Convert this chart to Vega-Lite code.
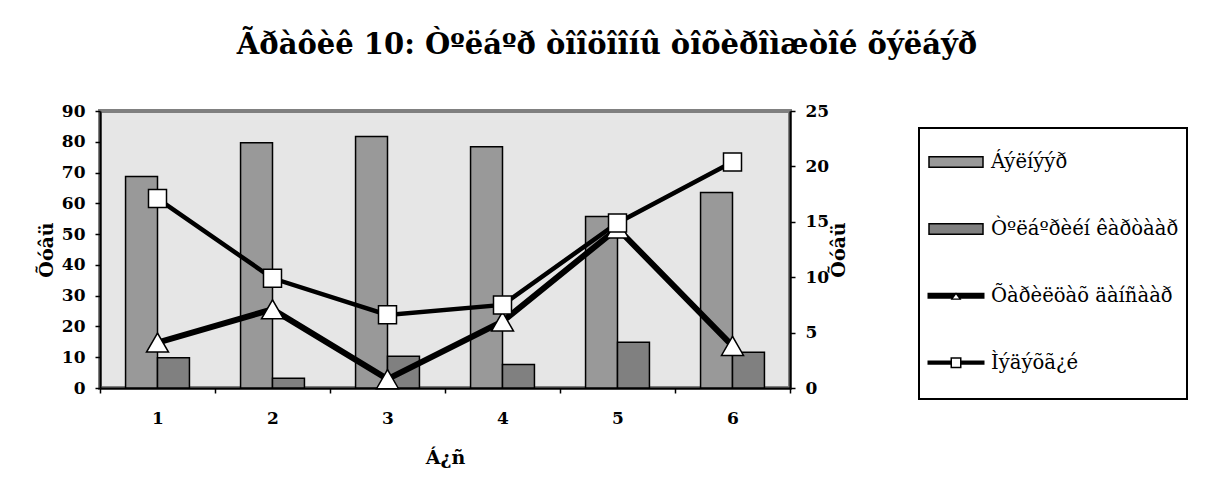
{
  "$schema": "https://vega.github.io/schema/vega-lite/v6.json",
  "autosize": {"type": "none"},
  "padding": {"left": 100, "top": 111, "right": 422, "bottom": 98},
  "width": 690,
  "height": 277,
  "background": "white",
  "title": {
    "text": "Ãðàôèê 10: Òºëáºð òîîöîîíû òîõèðîìæòîé õýëáýð",
    "font": "DejaVu Serif",
    "fontSize": 29,
    "fontWeight": "bold",
    "color": "black",
    "anchor": "middle",
    "dx": 162,
    "offset": 42
  },
  "data": {
    "values": [
      {"cat": "1", "series": "Áýëíýýð", "value": 68.7},
      {"cat": "2", "series": "Áýëíýýð", "value": 79.7},
      {"cat": "3", "series": "Áýëíýýð", "value": 81.7},
      {"cat": "4", "series": "Áýëíýýð", "value": 78.4},
      {"cat": "5", "series": "Áýëíýýð", "value": 55.7},
      {"cat": "6", "series": "Áýëíýýð", "value": 63.5},
      {"cat": "1", "series": "Òºëáºðèéí êàðòààð", "value": 9.8},
      {"cat": "2", "series": "Òºëáºðèéí êàðòààð", "value": 3.2},
      {"cat": "3", "series": "Òºëáºðèéí êàðòààð", "value": 10.3},
      {"cat": "4", "series": "Òºëáºðèéí êàðòààð", "value": 7.6},
      {"cat": "5", "series": "Òºëáºðèéí êàðòààð", "value": 14.9},
      {"cat": "6", "series": "Òºëáºðèéí êàðòààð", "value": 11.6},
      {"cat": "1", "series": "Õàðèëöàõ äàíñààð", "value": 4.1},
      {"cat": "2", "series": "Õàðèëöàõ äàíñààð", "value": 7.1},
      {"cat": "3", "series": "Õàðèëöàõ äàíñààð", "value": 0.8},
      {"cat": "4", "series": "Õàðèëöàõ äàíñààð", "value": 6.0},
      {"cat": "5", "series": "Õàðèëöàõ äàíñààð", "value": 14.4},
      {"cat": "6", "series": "Õàðèëöàõ äàíñààð", "value": 3.8},
      {"cat": "1", "series": "Ìýäýõã¿é", "value": 17.1},
      {"cat": "2", "series": "Ìýäýõã¿é", "value": 9.9},
      {"cat": "3", "series": "Ìýäýõã¿é", "value": 6.6},
      {"cat": "4", "series": "Ìýäýõã¿é", "value": 7.5},
      {"cat": "5", "series": "Ìýäýõã¿é", "value": 14.9},
      {"cat": "6", "series": "Ìýäýõã¿é", "value": 20.4}
    ]
  },
  "encoding": {
    "x": {
      "field": "cat",
      "type": "nominal",
      "sort": ["1", "2", "3", "4", "5", "6"],
      "scale": {"paddingInner": 0, "paddingOuter": 0},
      "axis": {
        "title": "Á¿ñ",
        "labelAngle": 0,
        "tickBand": "extent",
        "labelPadding": 17,
        "titlePadding": 22
      }
    }
  },
  "layer": [
    {
      "transform": [{"filter": "datum.series === 'Áýëíýýð' || datum.series === 'Òºëáºðèéí êàðòààð'"}],
      "mark": {"type": "bar", "stroke": "black", "strokeWidth": 1.5, "opacity": 1},
      "encoding": {
        "xOffset": {
          "field": "series",
          "type": "nominal",
          "sort": ["Áýëíýýð", "Òºëáºðèéí êàðòààð"],
          "scale": {"paddingInner": 0, "paddingOuter": 0.8}
        },
        "y": {
          "field": "value",
          "type": "quantitative",
          "scale": {"domain": [0, 90], "nice": false},
          "axis": {
            "orient": "left",
            "values": [0, 10, 20, 30, 40, 50, 60, 70, 80, 90],
            "title": "Õóâü",
            "titlePadding": 5
          }
        },
        "color": {
          "field": "series",
          "type": "nominal",
          "scale": {
            "domain": ["Áýëíýýð", "Òºëáºðèéí êàðòààð", "Õàðèëöàõ äàíñààð", "Ìýäýõã¿é"],
            "range": ["#999999", "#808080", "#000000", "#000000"]
          },
          "legend": {
            "title": null,
            "orient": "none",
            "legendX": 819,
            "legendY": 17,
            "padding": 8,
            "rowPadding": 12.9,
            "strokeColor": "black",
            "fillColor": "white",
            "symbolSize": 2500,
            "symbolStrokeWidth": 1.5,
            "symbolOffset": 3,
            "labelOffset": 9,
            "labelFont": "DejaVu Serif",
            "labelFontSize": 19.6,
            "labelColor": "black",
            "labelLimit": 0,
            "encoding": {
              "legend": {"strokeWidth": {"value": 2}},
              "symbols": {
                "shape": {"value": {"expr": "datum.index < 2 ? 'M-1.08,-0.21H1.08V0.21H-1.08Z M0,1' : datum.index == 2 ? 'M-1.14,-0.12L-0.005,-0.12L-0.181,0.12L-1.14,0.12Z M0.005,-0.12L1.14,-0.12L1.14,0.12L0.181,0.12Z M0,-0.14L0.22,0.16L-0.22,0.16Z M0,-0.053L-0.121,0.112L0.121,0.112Z M0,1' : 'M-1.14,-0.085H-0.21V0.085H-1.14Z M0.21,-0.085H1.14V0.085H0.21Z M-0.22,-0.22H0.22V0.22H-0.22Z M-0.16,-0.16V0.16H0.16V-0.16Z M0,1'"}},
                "stroke": {"value": {"expr": "datum.index < 2 ? 'black' : 'transparent'"}},
                "opacity": {"value": 1},
                "fillOpacity": {"value": 1}
              }
            }
          }
        }
      }
    },
    {
      "layer": [
        {
          "transform": [{"filter": "datum.series === 'Õàðèëöàõ äàíñààð'"}],
          "mark": {
            "type": "line",
            "stroke": "black",
            "strokeWidth": 6,
            "point": {"shape": "triangle-up", "size": 484, "filled": true, "fill": "white", "stroke": "black", "strokeWidth": 1.5, "opacity": 1}
          },
          "encoding": {
            "y": {
              "field": "value",
              "type": "quantitative",
              "scale": {"domain": [0, 25], "nice": false},
              "axis": {
                "orient": "right",
                "values": [0, 5, 10, 15, 20, 25],
                "title": "Õóâü",
                "titleAngle": 270,
                "titleBaseline": "top",
                "titlePadding": 1
              }
            }
          }
        },
        {
          "transform": [{"filter": "datum.series === 'Ìýäýõã¿é'"}],
          "mark": {
            "type": "line",
            "stroke": "black",
            "strokeWidth": 4.5,
            "point": {"shape": "square", "size": 324, "filled": true, "fill": "white", "stroke": "black", "strokeWidth": 1.5, "opacity": 1}
          },
          "encoding": {
            "y": {"field": "value", "type": "quantitative"}
          }
        }
      ]
    }
  ],
  "resolve": {"scale": {"y": "independent"}},
  "config": {
    "view": {"fill": "#e6e6e6", "stroke": "#808080", "strokeWidth": 4},
    "axis": {
      "grid": false,
      "domainColor": "black",
      "domainWidth": 2,
      "tickColor": "black",
      "tickWidth": 1.5,
      "tickSize": 5,
      "labelFont": "DejaVu Serif",
      "labelFontSize": 17,
      "labelFontWeight": "bold",
      "labelColor": "black",
      "labelPadding": 10,
      "titleFont": "DejaVu Serif",
      "titleFontSize": 19,
      "titleFontWeight": "bold",
      "titleColor": "black"
    }
  }
}
